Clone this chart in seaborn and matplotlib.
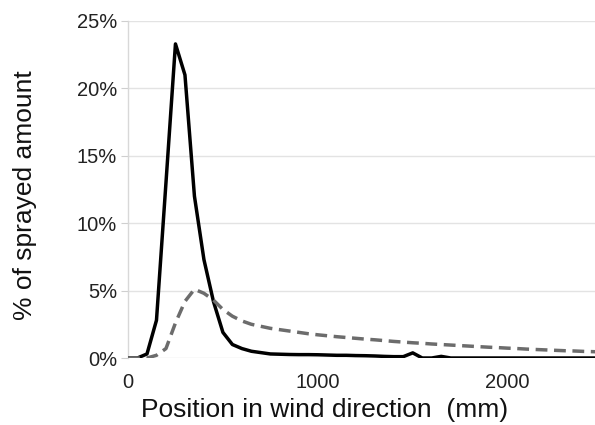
import numpy as np
import pandas as pd
import matplotlib
matplotlib.use("Agg")
import matplotlib.pyplot as plt
import seaborn as sns

positions = list(range(0, 2501, 50))

solid_values = [0.0, 0.0, 0.3, 2.8, 13.0, 23.3, 21.0, 12.0, 7.3, 4.2,
                1.9, 1.0, 0.7, 0.5, 0.4, 0.3, 0.28, 0.26, 0.25, 0.25,
                0.24, 0.22, 0.2, 0.2, 0.18, 0.17, 0.15, 0.12, 0.1, 0.1,
                0.38, 0.0, 0.0, 0.12, 0.0, 0.0, 0.0, 0.0, 0.0, 0.0,
                0.0, 0.0, 0.0, 0.0, 0.0, 0.0, 0.0, 0.0, 0.0, 0.0, 0.0]

dashed_values = [0.0, 0.0, 0.0, 0.2, 0.7, 2.6, 4.2, 5.1, 4.8, 4.3,
                 3.6, 3.1, 2.75, 2.5, 2.35, 2.2, 2.1, 2.0, 1.9, 1.8,
                 1.72, 1.65, 1.58, 1.52, 1.46, 1.4, 1.35, 1.29, 1.23, 1.18,
                 1.13, 1.09, 1.04, 1.0, 0.96, 0.92, 0.88, 0.84, 0.8, 0.77,
                 0.73, 0.7, 0.66, 0.63, 0.6, 0.57, 0.54, 0.52, 0.49, 0.47, 0.45]

series_names = ["solid", "dashed"]
y_ticks = [0, 5, 10, 15, 20, 25]
y_tick_labels = ["0%", "5%", "10%", "15%", "20%", "25%"]
x_ticks = [0, 1000, 2000]
x_tick_labels = ["0", "1000", "2000"]

df = pd.DataFrame({
    "pos": positions * 2,
    "val": solid_values + dashed_values,
    "series": [series_names[0]] * len(positions) + [series_names[1]] * len(positions),
})

sns.set_style("white")
plt.rcParams["font.family"] = ["Liberation Sans", "DejaVu Sans"]

fig = plt.figure(figsize=(5.95, 4.25), dpi=100)
ax = fig.add_axes([128 / 595, 1 - 358 / 425, 1 - 128 / 595, (358 - 21) / 425])

for y in y_ticks:
    ax.axhline(y, color="#e3e3e3", lw=1.0, zorder=0)

sns.lineplot(data=df, x="pos", y="val", hue="series", style="series",
             palette={"solid": "#000000", "dashed": "#6c6c6c"},
             dashes={"solid": "", "dashed": (3.4, 1.9)},
             linewidth=2.5, legend=False, ax=ax, zorder=3)

ax.set_xlim(0, 2460)
ax.set_ylim(0, 25)
ax.set_yticks(y_ticks)
ax.set_yticklabels(y_tick_labels, fontsize=14.5, color="#222222")
ax.set_xticks(x_ticks)
ax.set_xticklabels(x_tick_labels, fontsize=14.5, color="#222222")
ax.tick_params(axis="y", length=5, width=0.8, color="#cfcfcf", pad=3, left=True)
ax.tick_params(axis="x", length=0, pad=11)
ax.set_xlabel("")
ax.set_ylabel("")
for s in ["top", "right", "bottom"]:
    ax.spines[s].set_visible(False)
ax.spines["left"].set_color("#d8d8d8")
ax.spines["left"].set_linewidth(1.0)

fig.text(325 / 595, 1 - 410 / 425, "Position in wind direction  (mm)",
         fontsize=19, ha="center", va="center", color="#111111")
fig.text(25 / 595, 1 - 195 / 425, "% of sprayed amount", fontsize=19,
         rotation=90, ha="center", va="center", color="#111111")

fig.savefig("out.png", dpi=100)
